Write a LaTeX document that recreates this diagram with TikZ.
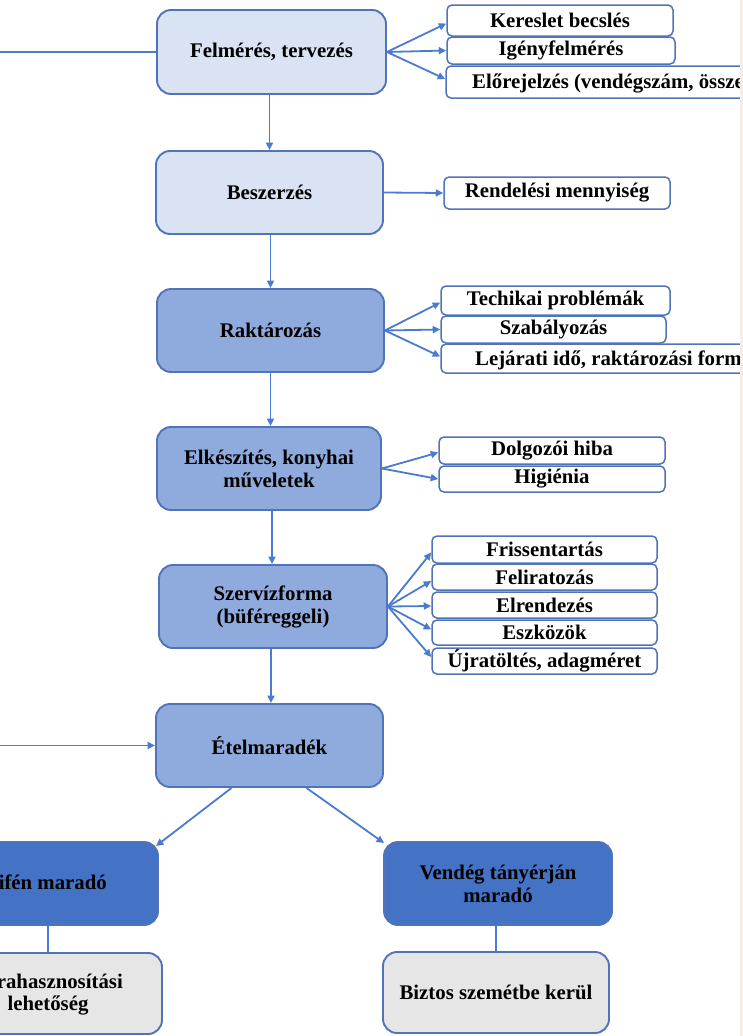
\documentclass[tikz,border=0pt]{standalone}
\usepackage{fontspec}
\setmainfont{Liberation Serif}
\usetikzlibrary{arrows.meta}
\definecolor{lightfill}{HTML}{DAE3F3}
\definecolor{midfill}{HTML}{8FAADC}
\definecolor{darkfill}{HTML}{4472C4}
\definecolor{grayfill}{HTML}{E7E6E6}
\definecolor{boxline}{HTML}{4F74B9}
\definecolor{conn}{HTML}{4A7BD0}
\definecolor{edgestrip}{HTML}{F4EEE6}
\begin{document}
\begin{tikzpicture}[x=1pt,y=-1pt,
  every node/.style={font=\fontsize{20.8}{23}\selectfont\bfseries, text=black, inner sep=0pt},
  bigbox/.style={draw=boxline, line width=1.9pt, rounded corners=14pt, align=center},
  lightbox/.style={bigbox, fill=lightfill},
  midbox/.style={bigbox, fill=midfill},
  darkbox/.style={bigbox, fill=darkfill},
  graybox/.style={bigbox, fill=grayfill},
  smallbox/.style={draw=boxline, fill=white, line width=1.5pt, rounded corners=5pt},
  plaintext/.style={draw=none, fill=none},
  link/.style={draw=conn, line width=1.8pt},
  arrowlink/.style={link, -{Triangle[length=7.5pt,width=7pt]}}
]
\useasboundingbox (0,0) rectangle (743,1036);
\clip (0,0) rectangle (743,1036);
\fill[white] (0,0) rectangle (743,1036);

% main column
\node[lightbox, minimum width=229, minimum height=84] (felm) at (271.5,52) {Felmérés, tervezés};
\node[lightbox, minimum width=227, minimum height=83] (besz) at (269.5,192.5) {Beszerzés};
\node[midbox, minimum width=227, minimum height=83] (rakt) at (270.5,330.5) {Raktározás};
\node[midbox, minimum width=224, minimum height=83] (elk) at (269,468.5) {Elkészítés, konyhai\\műveletek};
\node[midbox, minimum width=228, minimum height=83] (szerv) at (273,606.5) {Szervízforma\\(büféreggeli)};
\node[midbox, minimum width=227, minimum height=83] (etel) at (269.5,745.5) {Ételmaradék};

% bottom
\node[darkbox, minimum width=224, minimum height=83] (bufe) at (46,883.5) {};
\node[plaintext, anchor=base east] (bufetext) at (107,889) {ifén maradó};
\node[darkbox, minimum width=228, minimum height=83] (vend) at (498,883.5) {Vendég tányérján\\maradó};
\node[graybox, minimum width=227, minimum height=81] (ujra) at (48.5,993.5) {};
\node[plaintext, anchor=base east] (ujratext1) at (123,988) {rahasznosítási};
\node[plaintext, anchor=base] (ujratext2) at (48,1010.5) {lehetőség};
\node[graybox, minimum width=226, minimum height=81] (bizt) at (496,992.5) {Biztos szemétbe kerül};

% small boxes
\node[smallbox, minimum width=226, minimum height=31] (k1) at (560,20.5) {Kereslet becslés};
\node[smallbox, minimum width=228, minimum height=27] (k2) at (561,50.5) {Igényfelmérés};
\node[smallbox, minimum width=400, minimum height=32] (k3) at (646,82) {};
\node[plaintext, anchor=base west] (k3text) at (472,88.5) {Előrejelzés (vendégszám, össze};

\node[smallbox, minimum width=226, minimum height=32] (r1) at (557,193) {Rendelési mennyiség};

\node[smallbox, minimum width=229, minimum height=29] (t1) at (555.5,300.5) {Techikai problémák};
\node[smallbox, minimum width=225, minimum height=27] (t2) at (553.5,329.5) {Szabályozás};
\node[smallbox, minimum width=400, minimum height=29] (t3) at (641,358.5) {};
\node[plaintext, anchor=base west] (t3text) at (475,365) {Lejárati idő, raktározási form};

\node[smallbox, minimum width=226, minimum height=27] (d1) at (552,450.5) {Dolgozói hiba};
\node[smallbox, minimum width=226, minimum height=26] (d2) at (552,479) {Higiénia};

\node[smallbox, minimum width=225, minimum height=27] (s1) at (544.5,549.5) {Frissentartás};
\node[smallbox, minimum width=225, minimum height=26] (s2) at (544.5,577) {Feliratozás};
\node[smallbox, minimum width=225, minimum height=26] (s3) at (544.5,605) {Elrendezés};
\node[smallbox, minimum width=225, minimum height=25] (s4) at (544.5,632.5) {Eszközök};
\node[smallbox, minimum width=225, minimum height=26] (s5) at (544.5,661) {Újratöltés, adagméret};

% free ends on the left edge
\coordinate (leftA) at (0,52);
\coordinate (leftB) at (0,745.5);

% vertical flow
\draw[arrowlink] ([xshift=-2pt]felm.south) -- ([xshift=-2pt]felm.south |- besz.north);
\draw[arrowlink] ([xshift=1pt]besz.south) -- ([xshift=1pt]besz.south |- rakt.north);
\draw[arrowlink] (rakt.south) -- (rakt.south |- elk.north);
\draw[arrowlink] ([xshift=3pt]elk.south) -- ([xshift=3pt]elk.south |- szerv.north);
\draw[arrowlink] ([xshift=-2pt]szerv.south) -- ([xshift=-2pt]szerv.south |- etel.north);

% left edge lines
\draw[link] (felm.west) -- (leftA);
\draw[arrowlink] (leftB) -- (etel.west);

% fans
\draw[arrowlink] (felm.east) -- ([yshift=-3pt]k1.west);
\draw[arrowlink] (felm.east) -- (k2.west);
\draw[arrowlink] (felm.east) -- ([yshift=3pt]k3.west);
\draw[arrowlink] (besz.east) -- (r1.west);
\draw[arrowlink] (rakt.east) -- ([yshift=-2pt]t1.west);
\draw[arrowlink] (rakt.east) -- (t2.west);
\draw[arrowlink] (rakt.east) -- ([yshift=2pt]t3.west);
\draw[arrowlink] (elk.east) -- ([yshift=-2pt]d1.west);
\draw[arrowlink] (elk.east) -- (d2.west);
\draw[arrowlink] (szerv.east) -- ([yshift=-3pt]s1.west);
\draw[arrowlink] (szerv.east) -- ([yshift=-4pt]s2.west);
\draw[arrowlink] (szerv.east) -- ([yshift=-1pt]s3.west);
\draw[arrowlink] (szerv.east) -- ([yshift=3pt]s4.west);
\draw[arrowlink] (szerv.east) -- ([yshift=4pt]s5.west);

% split
\draw[arrowlink] ([xshift=-38pt]etel.south) -- ([xshift=-3pt,yshift=-5pt]bufe.north east);
\draw[arrowlink] ([xshift=37pt]etel.south) -- ([xshift=1pt,yshift=-2pt]vend.north west);
\draw[link] ([xshift=2pt]bufe.south) -- ([xshift=2pt]bufe.south |- ujra.north);
\draw[link] ([xshift=-2pt]vend.south) -- ([xshift=-2pt]vend.south |- bizt.north);

\fill[edgestrip] (740,0) rectangle (743,1036);
\end{tikzpicture}
\end{document}
